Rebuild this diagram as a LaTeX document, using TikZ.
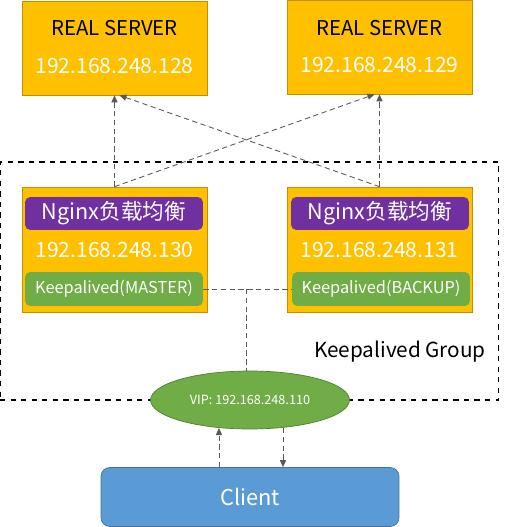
\documentclass[tikz,border=0pt]{standalone}
\usepackage{fontspec}
\setmainfont{Noto Sans CJK SC}
\usetikzlibrary{arrows.meta,shapes.geometric}
\definecolor{gold}{HTML}{FFC000}
\definecolor{goldline}{HTML}{BF9000}
\definecolor{nginxpurple}{HTML}{7030A0}
\definecolor{kagreen}{HTML}{70AD47}
\definecolor{kaline}{HTML}{507E32}
\definecolor{clientblue}{HTML}{5B9BD5}
\definecolor{clientline}{HTML}{41719C}
\begin{document}
\begin{tikzpicture}[x=0.02cm,y=-0.02cm,
    server/.style={draw=goldline,fill=gold,minimum width=3.7cm,minimum height=1.88cm,inner sep=0pt},
    nginxbar/.style={fill=nginxpurple,rounded corners=3pt,minimum width=3.56cm,minimum height=0.66cm,inner sep=0pt,text=white,font=\fontsize{12.3}{14}\selectfont},
    kabar/.style={fill=kagreen,rounded corners=3pt,minimum width=3.56cm,minimum height=0.68cm,inner sep=0pt,text=white,font=\fontsize{9.3}{11}\selectfont},
    iptext/.style={text=white,font=\fontsize{12}{14}\selectfont},
    link/.style={densely dashed,line width=0.5pt,black!65,-{Triangle[length=4pt,width=3.5pt]}},
    plainlink/.style={densely dashed,line width=0.5pt,black!65}]
    \useasboundingbox (0,0) rectangle (508,527);
    % real servers
    \node[server] (RS1) at (114.5,48) {};
    \node[server] (RS2) at (379.5,47) {};
    \node[font=\fontsize{11.6}{13}\selectfont] (RS1name) at (114.5,28) {REAL SERVER};
    \node[font=\fontsize{11.6}{13}\selectfont] (RS2name) at (379.5,28) {REAL SERVER};
    \node[iptext] (RS1ip) at (114.5,66) {192.168.248.128};
    \node[iptext] (RS2ip) at (379.5,65) {192.168.248.129};
    % keepalived group
    \node[draw,dashed,line width=0.6pt,minimum width=9.98cm,minimum height=4.76cm,inner sep=0pt] (G) at (249.5,281) {};
    \node[font=\fontsize{11.8}{13}\selectfont,anchor=east] (Glabel) at (492,352) {Keepalived Group};
    % nginx nodes
    \node[server,minimum height=2.5cm] (N1) at (114.5,249.5) {};
    \node[server,minimum height=2.5cm] (N2) at (379.5,249.5) {};
    \node[nginxbar] (N1bar) at (114,213.5) {Nginx负载均衡};
    \node[nginxbar] (N2bar) at (380,213.5) {Nginx负载均衡};
    \node[iptext] (N1ip) at (114.5,250) {192.168.248.130};
    \node[iptext] (N2ip) at (379.5,250) {192.168.248.131};
    \node[kabar] (K1) at (114,289) {Keepalived(MASTER)};
    \node[kabar] (K2) at (381,289) {Keepalived(BACKUP)};
    % vip and client
    \node[ellipse,draw=kaline,fill=kagreen,minimum width=3.98cm,minimum height=1.16cm,inner sep=0pt,text=white,font=\fontsize{7.2}{9}\selectfont] (VIP) at (250,400) {VIP: 192.168.248.110};
    \node[draw=clientline,fill=clientblue,rounded corners=5pt,minimum width=5.96cm,minimum height=1.18cm,inner sep=0pt,text=white,font=\fontsize{12.4}{14}\selectfont] (C) at (250,497) {Client};
    \coordinate (J) at (246,289);
    \coordinate (Up) at (219,428);
    \coordinate (Dn) at (283,428);
    % connectors
    \draw[link] (N1.north) -- (RS1.south);
    \draw[link] (N1.north) -- ([xshift=-0.1cm]RS2.south);
    \draw[link] (N2.north) -- (RS2.south);
    \draw[link] (N2.north) -- ([xshift=0.1cm]RS1.south);
    \draw[plainlink] (K1.east) -- (K2.west);
    \draw[plainlink] (J) -- (J |- VIP.north);
    \draw[link] (C.north -| Up) -- (Up);
    \draw[link] (Dn) -- (C.north -| Dn);
\end{tikzpicture}
\end{document}
